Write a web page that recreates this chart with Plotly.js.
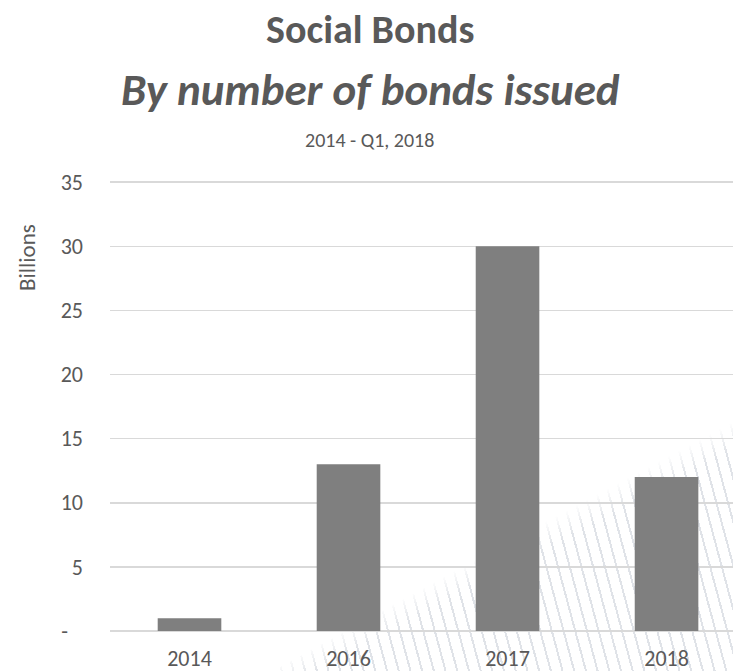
<!DOCTYPE html>
<html>
<head>
<meta charset="utf-8">
<script src="https://cdn.plot.ly/plotly-3.0.1.min.js"></script>
<style>
  html, body { margin: 0; padding: 0; background: #ffffff; }
  #bg {
    position: absolute; left: 0; top: 0; width: 733px; height: 671px;
    clip-path: polygon(273px 671px, 733px 419px, 733px 671px);
    background: repeating-linear-gradient(75deg, #dde0e5 0px, #dde0e5 2px, rgba(255,255,255,0) 2px, rgba(255,255,255,0) 11.3px);
    -webkit-mask-image: linear-gradient(152deg, rgba(0,0,0,0) 0%, rgba(0,0,0,0) 76.5%, rgba(0,0,0,0.9) 79%);
    mask-image: linear-gradient(152deg, rgba(0,0,0,0) 0%, rgba(0,0,0,0) 76.5%, rgba(0,0,0,0.9) 79%);
  }
  #chart { position: absolute; left: 0; top: 0; width: 733px; height: 671px; }
</style>
</head>
<body>
<div id="bg"></div>
<div id="chart"></div>
<script>
const categories = ["2014", "2016", "2017", "2018"];
const values = [1, 13, 30, 12];
const yTickVals = [0, 5, 10, 15, 20, 25, 30, 35];
const yTickText = ["-\u00a0\u00a0\u00a0", "5", "10", "15", "20", "25", "30", "35"];

const FONT = "Carlito, Lato, 'Open Sans', sans-serif";
const TXT = "#595959";

const trace = {
  type: "bar",
  x: categories,
  y: values,
  marker: { color: "#7f7f7f" },
  hoverinfo: "x+y"
};

// plot area: y=0 at 631px, y=35 at 182px
const Y_MAX = 35.4;
const PLOT_H = 449 * Y_MAX / 35;
const TOP = 671 - 40 - PLOT_H;

const px2x = p => (p - 110) / 623;
const px2y = p => (631 - p) / PLOT_H;

const layout = {
  width: 733, height: 671,
  margin: { l: 110, r: 0, t: TOP, b: 40 },
  paper_bgcolor: "rgba(0,0,0,0)",
  plot_bgcolor: "rgba(0,0,0,0)",
  bargap: 0.6,
  showlegend: false,
  font: { family: FONT, color: TXT, size: 22 },
  xaxis: {
    type: "category",
    range: [-0.5, 3.418],
    showgrid: false, zeroline: false, showline: false,
    ticks: "", ticklabelstandoff: 12,
    tickfont: { family: FONT, size: 22, color: TXT }
  },
  yaxis: {
    range: [0, Y_MAX],
    tickvals: yTickVals, ticktext: yTickText,
    showgrid: true, gridcolor: "#d9d9d9", gridwidth: 1.5,
    zeroline: true, zerolinecolor: "#d9d9d9", zerolinewidth: 1.5,
    showline: false, ticks: "", ticklabelstandoff: 26,
    tickfont: { family: FONT, size: 22, color: TXT }
  },
  annotations: [
    { text: "<b>Social Bonds</b>", xref: "paper", yref: "paper",
      x: px2x(370), y: px2y(29), xanchor: "center", yanchor: "middle",
      showarrow: false, font: { family: FONT, size: 40, color: TXT } },
    { text: "<b><i>By number of bonds issued</i></b>", xref: "paper", yref: "paper",
      x: px2x(370), y: px2y(89), xanchor: "center", yanchor: "middle",
      showarrow: false, font: { family: FONT, size: 45, color: TXT } },
    { text: "2014 - Q1, 2018", xref: "paper", yref: "paper",
      x: px2x(369), y: px2y(140), xanchor: "center", yanchor: "middle",
      showarrow: false, font: { family: FONT, size: 20, color: TXT } },
    { text: "Billions", xref: "paper", yref: "paper", textangle: -90,
      x: px2x(27), y: px2y(258), xanchor: "center", yanchor: "middle",
      showarrow: false, font: { family: FONT, size: 23, color: TXT } }
  ]
};

Plotly.newPlot("chart", [trace], layout, { displayModeBar: false, staticPlot: true });
</script>
</body>
</html>
